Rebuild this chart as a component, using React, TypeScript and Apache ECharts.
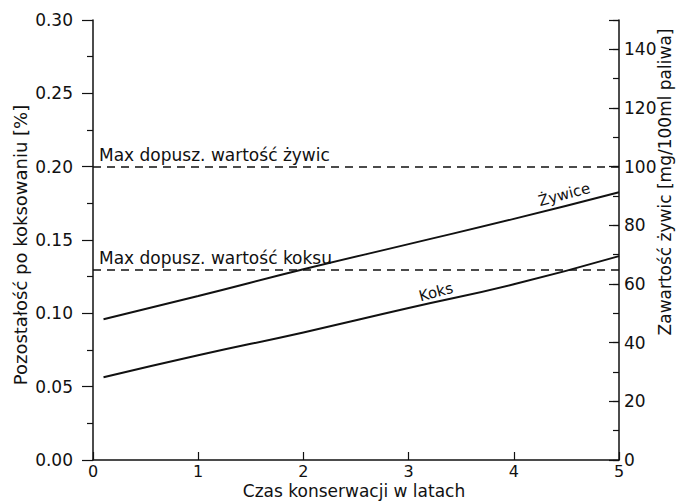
import React, { useEffect, useRef } from "react";
import * as echarts from "echarts";

const xYears = [0.1, 1, 2, 3, 4, 5];
const koksValues = [0.0564, 0.0714, 0.087, 0.1036, 0.1198, 0.139];
const zywiceValues = [48, 55.9, 65, 73.6, 82.2, 91.3];

const xTicks = [0, 1, 2, 3, 4, 5];
const maxZywiceLeft = 0.2;
const maxKoksLeft = 0.13;
const labelZywiceMax = "Max dopusz. wartość żywic";
const labelKoksMax = "Max dopusz. wartość koksu";
const curveLabels = [
  { name: "Żywice", x: 4.48, y: 90.5, axis: 1 },
  { name: "Koks", x: 3.26, y: 0.1145, axis: 0 },
];
const xName = "Czas konserwacji w latach";
const leftName = "Pozostałość po koksowaniu [%]";
const rightName = "Zawartość żywic [mg/100ml paliwa]";

const FONT = "DejaVu Sans";
const INK = "#111";

export default function App() {
  const ref = useRef<HTMLDivElement>(null);
  useEffect(() => {
    if (!ref.current) return;
    const chart = echarts.init(ref.current, null, { renderer: "svg" });
    const axisLine = { show: true, lineStyle: { color: INK, width: 1.5 } };
    const option: any = {
      animation: false,
      backgroundColor: "#fff",
      textStyle: { fontFamily: FONT, color: INK },
      grid: { left: 93, right: 58, top: 20, bottom: 41 },
      xAxis: {
        type: "value",
        min: xTicks[0],
        max: xTicks[xTicks.length - 1],
        interval: 1,
        axisLine,
        axisTick: { show: true, inside: true, length: 8, lineStyle: { color: INK, width: 1.2 } },
        axisLabel: { color: INK, fontSize: 16, fontFamily: FONT, margin: 3 },
        splitLine: { show: false },
      },
      yAxis: [
        {
          type: "value",
          position: "left",
          min: 0,
          max: 0.3,
          interval: 0.05,
          axisLine,
          axisTick: { show: true, inside: false, length: 11, lineStyle: { color: INK, width: 1.2 } },
          minorTick: { show: true, splitNumber: 2, length: 6, lineStyle: { color: INK, width: 1.2 } },
          axisLabel: {
            color: INK,
            fontSize: 17,
            fontFamily: FONT,
            margin: 20,
            formatter: (v: number) => v.toFixed(2),
          },
          splitLine: { show: false },
          minorSplitLine: { show: false },
        },
        {
          type: "value",
          position: "right",
          min: 0,
          max: 150,
          interval: 10,
          axisLine,
          axisTick: { show: true, inside: true, length: 6, lineStyle: { color: INK, width: 1.2 } },
          axisLabel: { show: false },
          splitLine: { show: false },
        },
        {
          type: "value",
          position: "right",
          min: 0,
          max: 150,
          interval: 20,
          axisLine: { show: false },
          axisTick: { show: true, inside: true, length: 10, lineStyle: { color: INK, width: 1.2 } },
          axisLabel: {
            color: INK,
            fontSize: 17,
            fontFamily: FONT,
            margin: 5,
            formatter: (v: number) => (v % 20 === 0 && v <= 140 ? String(v) : ""),
          },
          splitLine: { show: false },
        },
      ],
      series: [
        {
          type: "line",
          yAxisIndex: 0,
          data: xYears.map((x, i) => [x, koksValues[i]]),
          showSymbol: false,
          symbol: "none",
          smooth: true,
          lineStyle: { color: INK, width: 2 },
          markLine: {
            silent: true,
            symbol: ["none", "none"],
            lineStyle: { color: INK, width: 1.5, type: [8, 6] },
            label: {
              show: true,
              position: "insideStartTop",
              distance: [6, 3],
              color: INK,
              fontSize: 17,
              fontFamily: FONT,
            },
            data: [
              { yAxis: maxZywiceLeft, label: { formatter: labelZywiceMax } },
              { yAxis: maxKoksLeft, label: { formatter: labelKoksMax } },
            ],
          },
        },
        {
          type: "line",
          yAxisIndex: 1,
          data: xYears.map((x, i) => [x, zywiceValues[i]]),
          showSymbol: false,
          symbol: "none",
          smooth: true,
          lineStyle: { color: INK, width: 2 },
        },
        ...curveLabels.map((c) => ({
          type: "scatter",
          yAxisIndex: c.axis,
          symbolSize: 0,
          silent: true,
          itemStyle: { color: INK, opacity: 1 },
          data: [[c.x, c.y]],
          label: {
            show: true,
            position: "inside",
            formatter: c.name,
            rotate: 15,
            color: INK,
            opacity: 1,
            textBorderWidth: 0,
            fontSize: 15,
            fontFamily: FONT,
          },
        })),
      ],
      graphic: [
        {
          type: "text",
          x: 354,
          y: 491,
          style: {
            text: xName,
            fontSize: 17,
            fontFamily: FONT,
            fill: INK,
            align: "center",
            verticalAlign: "middle",
          },
        },
        {
          type: "text",
          x: 20,
          y: 245,
          rotation: Math.PI / 2,
          style: {
            text: leftName,
            fontSize: 18,
            fontFamily: FONT,
            fill: INK,
            align: "center",
            verticalAlign: "middle",
          },
        },
        {
          type: "text",
          x: 665,
          y: 182,
          rotation: Math.PI / 2,
          style: {
            text: rightName,
            fontSize: 17,
            fontFamily: FONT,
            fill: INK,
            align: "center",
            verticalAlign: "middle",
          },
        },
      ],
    };
    chart.setOption(option);
    return () => chart.dispose();
  }, []);
  return (
    <div
      ref={ref}
      style={{ position: "fixed", left: 0, top: 0, width: 677, height: 501 }}
    />
  );
}
